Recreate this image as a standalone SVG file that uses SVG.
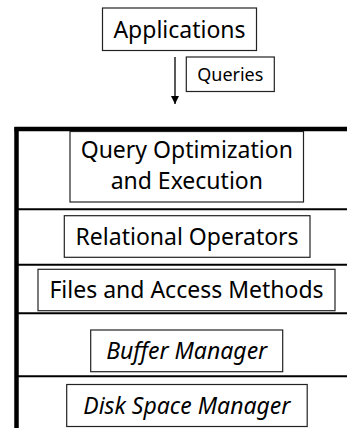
<svg xmlns="http://www.w3.org/2000/svg" width="347" height="428" viewBox="0 0 347 428">
<style>
.box{fill:#fff;stroke:#222;stroke-width:1.2}
.t{font-family:"Noto Sans",sans-serif;font-size:23px;fill:#000;text-anchor:middle}
.it{font-style:italic}
.sm{font-size:18px}
.layer{stroke:#000;stroke-width:2}
</style>
<defs>
<marker id="ah" viewBox="0 0 8 8" refX="8" refY="4" markerWidth="8" markerHeight="8" markerUnits="userSpaceOnUse" orient="auto">
<path d="M0,0 L8,4 L0,8 Z" fill="#000"/>
</marker>
</defs>
<rect width="347" height="428" fill="#fff"/>
<g id="stack">
<line x1="14.5" y1="129" x2="347" y2="129" stroke="#000" stroke-width="4.5"/>
<line x1="16.5" y1="127" x2="16.5" y2="428" stroke="#000" stroke-width="4.5"/>
<line class="layer" x1="18" y1="209.3" x2="347" y2="209.3"/>
<line class="layer" x1="18" y1="264.7" x2="347" y2="264.7"/>
<line class="layer" x1="18" y1="313.3" x2="347" y2="313.3"/>
<line class="layer" x1="18" y1="376.2" x2="347" y2="376.2"/>
</g>
<g id="connectors">
<line x1="175" y1="57" x2="175" y2="104" stroke="#000" stroke-width="1.3" marker-end="url(#ah)"/>
</g>
<g id="applications">
<rect class="box" x="102.5" y="8" width="154" height="42.5"/>
<text class="t" x="179.5" y="37.5">Applications</text>
</g>
<g id="queries">
<rect class="box" x="186.3" y="57" width="88" height="34.5"/>
<text class="t sm" x="230.3" y="81">Queries</text>
</g>
<g id="qoe">
<rect class="box" x="70" y="131.5" width="233.5" height="70.5"/>
<text class="t" x="186.8" y="158">Query Optimization</text>
<text class="t" x="186.8" y="189">and Execution</text>
</g>
<g id="relops">
<rect class="box" x="64.3" y="215.7" width="245.7" height="41.6"/>
<text class="t" x="187.1" y="244.5">Relational Operators</text>
</g>
<g id="files">
<rect class="box" x="38" y="269.3" width="297" height="41.4"/>
<text class="t" x="186.5" y="298">Files and Access Methods</text>
</g>
<g id="buffer">
<rect class="box" x="90.7" y="330" width="192" height="41.7"/>
<text class="t it" x="186.7" y="359">Buffer Manager</text>
</g>
<g id="disk">
<rect class="box" x="66.7" y="384.5" width="240.5" height="42"/>
<text class="t it" x="186.9" y="413.5">Disk Space Manager</text>
</g>
</svg>
